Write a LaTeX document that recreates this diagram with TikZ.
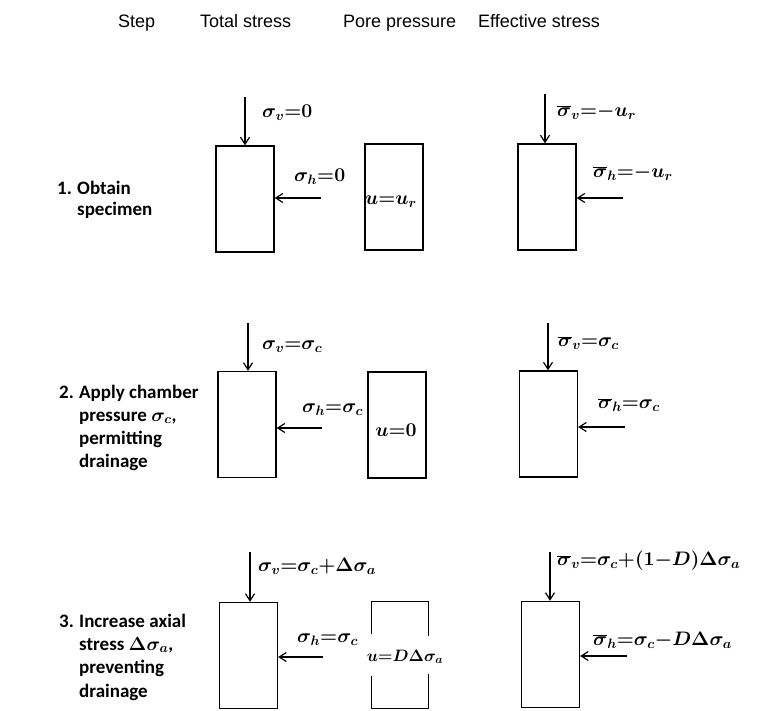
\documentclass[tikz,border=0pt]{standalone}
\usepackage{fix-cm}
\usepackage{fontspec}
\usetikzlibrary{arrows.meta}
\newfontfamily\hdrfont{Liberation Sans}
\newfontfamily\stepfont{Carlito}
\newcommand\tightmath{\thickmuskip=0mu\relax\medmuskip=0mu\relax}
\newcommand\sbar{\overline{\sigma}}
\tikzset{
  box/.style={draw, line width=1.4pt, minimum width=58pt, minimum height=106pt, inner sep=0pt},
  side/.style={line width=1.4pt},
  arr/.style={line width=1.4pt, -{Straight Barb[length=7pt,width=9pt,line width=1.2pt]}},
  hdr/.style={anchor=base west, inner sep=0pt, font=\hdrfont\fontsize{18}{21}\selectfont},
  stp/.style={anchor=base west, inner sep=0pt, font=\stepfont\bfseries\fontsize{19}{23}\selectfont\boldmath},
  lab/.style={anchor=west, inner sep=0pt, font=\fontsize{19.5}{22}\selectfont\boldmath\tightmath},
  mid/.style={inner sep=0pt, font=\fontsize{19.5}{22}\selectfont\boldmath\tightmath},
}
\begin{document}
\begin{tikzpicture}[x=1pt,y=-1pt]
\useasboundingbox[fill=white] (0,0) rectangle (778,711);

% headers
\node[hdr] (hstep) at (118,28) {Step};
\node[hdr] (htot) at (200,28) {Total stress};
\node[hdr] (hpore) at (343,28) {Pore pressure};
\node[hdr] (heff) at (478,28) {Effective stress};

% ---------- Row 1
\node[stp] (n1) at (57,195) {1.};
\node[stp] (s1a) at (77,195) {Obtain};
\node[stp] (s1b) at (77,216) {specimen};

\node[box] (t1) at (245,199) {};
\node[box] (p1) at (394,197) {};
\node[box] (e1) at (547,197) {};

\coordinate (t1v) at (245,97);
\draw[arr] (t1v) -- (t1v |- t1.north);
\coordinate (t1h) at (321,198);
\draw[arr] (t1h) -- (t1h -| t1.east);
\node[lab] (t1vl) at (262,113) {$\sigma_v=0$};
\node[lab] (t1hl) at (294,177) {$\sigma_h=0$};

\node[mid] (p1l) at (391,202) {$u=u_r$};

\coordinate (e1v) at (545,94);
\draw[arr] (e1v) -- (e1v |- e1.north);
\coordinate (e1h) at (623,198);
\draw[arr] (e1h) -- (e1h -| e1.east);
\node[lab] (e1vl) at (557,112) {$\sbar_v=-u_r$};
\node[lab] (e1hl) at (593,173) {$\sbar_h=-u_r$};

% ---------- Row 2
\node[stp] (n2) at (59,398) {2.};
\node[stp] (s2a) at (79,398) {Apply chamber};
\node[stp] (s2b) at (79,421) {pressure $\sigma_c$,};
\node[stp] (s2c) at (79,444) {permitting};
\node[stp] (s2d) at (79,467) {drainage};

\node[box] (t2) at (247,424.5) {};
\node[box] (p2) at (397,425) {};
\node[box] (e2) at (548.5,424) {};

\coordinate (t2v) at (248,323);
\draw[arr] (t2v) -- (t2v |- t2.north);
\coordinate (t2h) at (322,428);
\draw[arr] (t2h) -- (t2h -| t2.east);
\node[lab] (t2vl) at (262,347) {$\sigma_v=\sigma_c$};
\node[lab] (t2hl) at (302,410) {$\sigma_h=\sigma_c$};

\node[mid] (p2l) at (396,430) {$u=0$};

\coordinate (e2v) at (548,323);
\draw[arr] (e2v) -- (e2v |- e2.north);
\coordinate (e2h) at (625,427);
\draw[arr] (e2h) -- (e2h -| e2.east);
\node[lab] (e2vl) at (558,343) {$\sbar_v=\sigma_c$};
\node[lab] (e2hl) at (598,405) {$\sbar_h=\sigma_c$};

% ---------- Row 3
\node[stp] (n3) at (59,627) {3.};
\node[stp] (s3a) at (79,627) {Increase axial};
\node[stp] (s3b) at (79,650) {stress $\Delta\sigma_a$,};
\node[stp] (s3c) at (79,673) {preventing};
\node[stp] (s3d) at (79,697) {drainage};

\node[box] (t3) at (248.5,655.5) {};
\node[box, draw=none, minimum width=56pt] (p3) at (400,655) {};
\node[box] (e3) at (550.5,654.5) {};

\draw[side] ([yshift=-33pt]p3.north west) -- (p3.north west) -- (p3.north east) -- ([yshift=-35pt]p3.north east);
\draw[side] ([yshift=33pt]p3.south west) -- (p3.south west) -- (p3.south east) -- ([yshift=35pt]p3.south east);

\coordinate (t3v) at (250,552);
\draw[arr] (t3v) -- (t3v |- t3.north);
\coordinate (t3h) at (323,657);
\draw[arr] (t3h) -- (t3h -| t3.east);
\node[lab] (t3vl) at (258,566) {$\sigma_v=\sigma_c+\Delta\sigma_a$};
\node[lab] (t3hl) at (297,640) {$\sigma_h=\sigma_c$};

\node[mid, font=\fontsize{16.5}{19}\selectfont\boldmath\tightmath] (p3l) at (405,657) {$u=D\Delta\sigma_a$};

\coordinate (e3v) at (550,552);
\draw[arr] (e3v) -- (e3v |- e3.north);
\coordinate (e3h) at (627,656);
\draw[arr] (e3h) -- (e3h -| e3.east);
\node[lab] (e3vl) at (557,561) {$\sbar_v=\sigma_c+(1-D)\Delta\sigma_a$};
\node[lab] (e3hl) at (593,640) {$\sbar_h=\sigma_c-D\Delta\sigma_a$};
\end{tikzpicture}
\end{document}
